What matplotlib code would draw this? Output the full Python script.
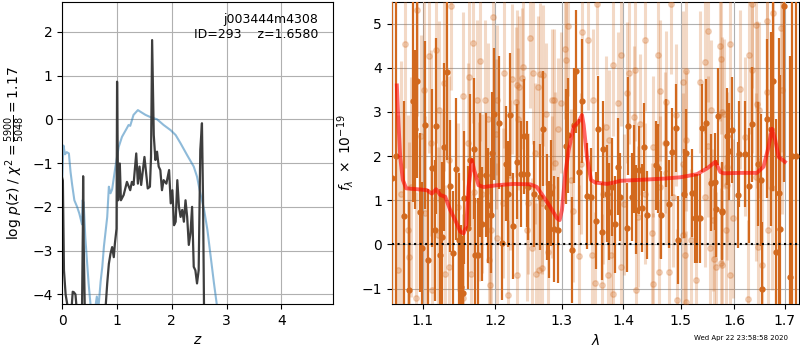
import numpy as np
import matplotlib
matplotlib.use('Agg')
import matplotlib.pyplot as plt
from matplotlib.ticker import NullLocator, NullFormatter

# ---- p(z) panel
z_pz = [0.0, 0.01, 0.03, 0.06, 0.10, 0.17, 0.19, 0.21, 0.24, 0.26, 0.36, 0.375, 0.38, 0.39, 0.41, 0.79,
        0.82, 0.85, 0.88, 0.91, 0.94, 0.96, 0.99, 1.00, 1.02, 1.05, 1.07, 1.12, 1.18, 1.24, 1.27, 1.30,
        1.35, 1.38, 1.41, 1.44, 1.50, 1.56, 1.60, 1.62, 1.64, 1.67, 1.70, 1.73, 1.76, 1.79, 1.82, 1.85,
        1.90, 1.95, 1.98, 2.01, 2.04, 2.07, 2.10, 2.13, 2.16, 2.19, 2.22, 2.25, 2.28, 2.31, 2.34, 2.37,
        2.40, 2.43, 2.46, 2.49, 2.52, 2.55, 2.57, 2.60, 4.95]
logpz = [-1.35, -1.4, -3.45, -4.0, -4.3, -4.3, -3.94, -3.95, -4.0, -4.3, -4.3, -2.5, -1.3, -2.8, -4.3, -4.3,
         -3.75, -3.3, -3.07, -2.92, -3.15, -2.84, -2.5, 0.86, -1.85, -1.01, -1.85, -1.73, -1.43, -1.62, -1.43, -1.50,
         -0.78, -1.47, -1.08, -1.50, -0.86, -1.58, -1.54, -0.86, 1.81, -0.36, -0.93, -0.74, -1.08, -1.16, -1.62, -1.39,
         -1.47, -1.16, -1.92, -1.62, -2.42, -2.34, -1.39, -2.0, -2.23, -2.07, -2.34, -1.85, -2.23, -2.87, -2.61, -2.0,
         -3.37, -3.45, -3.75, -3.45, -0.70, -0.09, -1.85, -6.0, -9.0]

z_chi2 = [0.0, 0.02, 0.05, 0.08, 0.12, 0.15, 0.18, 0.22, 0.27, 0.31, 0.34, 0.36, 0.37, 0.39, 0.42, 0.48,
          0.52, 0.58, 0.63, 0.66, 0.70, 0.73, 0.76, 0.82, 0.85, 0.88, 0.91, 0.97, 1.03, 1.09, 1.18, 1.21,
          1.24, 1.30, 1.38, 1.43, 1.52, 1.61, 1.73, 1.85, 1.98, 2.07, 2.16, 2.28, 2.40, 2.46, 2.52, 2.59,
          2.65, 2.71, 2.77, 2.82, 2.90, 3.00]
chi2_scaled = [-1.3, -0.6, -0.8, -0.75, -0.78, -1.2, -1.5, -1.85, -2.0, -2.15, -2.3, -2.4, -1.85, -1.9, -2.7, -3.75,
               -4.3, -4.5, -4.05, -4.3, -3.7, -3.37, -2.9, -2.23, -1.54, -1.69, -1.6, -1.08, -0.63, -0.40, -0.2, -0.13,
               -0.15, 0.10, 0.21, 0.17, 0.10, 0.05, 0.0, -0.13, -0.25, -0.36, -0.55, -0.82, -1.08, -1.31, -1.69, -2.07,
               -2.53, -3.14, -3.75, -4.22, -5.2, -6.5]

# ---- 1D spectrum panel (flux in 1e-19)
lam_dark = [1.061, 1.065, 1.0764, 1.0829, 1.0873, 1.0907, 1.0930, 1.0965, 1.0987, 1.1039, 1.1079, 1.1125,
            1.1160, 1.1186, 1.1227, 1.1267, 1.1294, 1.1335, 1.1376, 1.1417, 1.1458, 1.1499, 1.1523, 1.1546,
            1.1560, 1.1624, 1.1648, 1.1708, 1.1722, 1.1756, 1.1788, 1.1821, 1.1874, 1.1907, 1.1945, 1.1955,
            1.1993, 1.2065, 1.2109, 1.2158, 1.2197, 1.2225, 1.2270, 1.2319, 1.2383, 1.2432, 1.2468, 1.2492,
            1.2582, 1.2673, 1.2719, 1.2770, 1.2806, 1.2837, 1.2888, 1.2940, 1.3065, 1.3106, 1.3160, 1.3197,
            1.3233, 1.3276, 1.3319, 1.3409, 1.3463, 1.3544, 1.3586, 1.3642, 1.3663, 1.3725, 1.3763, 1.3817,
            1.3862, 1.3917, 1.3945, 1.4068, 1.4084, 1.4152, 1.4181, 1.4221, 1.4267, 1.4313, 1.4353, 1.4404,
            1.4566, 1.4596, 1.4654, 1.4731, 1.4789, 1.4848, 1.4909, 1.4950, 1.5053, 1.5100, 1.5209, 1.5253,
            1.5295, 1.5356, 1.5393, 1.5455, 1.5560, 1.5623, 1.5642, 1.5685, 1.5755, 1.5767, 1.5856, 1.5900,
            1.5946, 1.6073, 1.6092, 1.6202, 1.6285, 1.6332, 1.6463, 1.6510, 1.6549, 1.6629, 1.6709, 1.6762,
            1.6816, 1.6882, 1.6910, 1.6978, 1.7100, 1.7150, 1.7230]
flux_dark = [1.5, 2.0, 0.64, -1.03, 3.25, 2.61, 3.70, 0.73, -0.09, 2.70, -0.35, 1.73,
             0.32, 2.68, -0.24, 0.16, 2.21, 3.91, 1.32, -0.20, 1.71, 0.11, -0.97, -1.11,
             1.06, 0.38, 1.91, 2.17, -0.24, -0.24, 1.57, 0.46, 1.57, 0.89, 0.66, 2.06,
             2.95, 2.76, 0.04, 1.83, 1.14, 2.94, 0.41, 1.87, 1.59, 2.45, 1.59, 1.30,
             1.15, 1.08, 2.62, 0.84, 0.34, 1.17, 0.34, 0.32, 2.22, 2.47, -0.13, 2.70,
             3.92, 1.63, 3.25, 1.09, 1.08, 0.54, 2.62, 0.29, 2.15, 1.15, 0.74, 1.30,
             0.46, 1.76, 1.08, 0.38, 2.68, 1.08, 1.70, 0.79, 1.68, 0.83, 2.21, 0.66,
             1.79, 1.72, 0.66, 2.30, 0.91, 2.10, 2.64, 0.10, 1.15, 2.06, 1.17, 0.59,
             0.59, 0.59, 2.64, 2.74, 1.40, 1.42, 0.81, 2.90, 0.74, 0.76, 2.45, 2.11,
             2.59, 1.12, 2.04, 2.04, 1.33, 2.72, 1.82, 1.46, -1.00, 2.85, 2.62, 3.70,
             -0.17, 1.17, 0.34, 5.41, -0.73, 2.0, 2.0]
err_dark = [6.0, 5.0, 2.6, 2.0, 2.3, 1.8, 2.2, 1.8, 1.5, 1.9, 1.6, 1.8,
            1.6, 2.0, 1.5, 1.7, 1.9, 2.0, 1.5, 1.4, 1.6, 1.5, 1.4, 1.3,
            1.5, 1.4, 1.5, 1.6, 1.3, 1.3, 1.4, 1.3, 1.4, 1.3, 1.3, 1.4,
            1.5, 1.5, 1.3, 1.3, 1.2, 1.4, 1.2, 1.3, 1.2, 1.3, 1.2, 1.2,
            1.2, 1.2, 1.3, 1.2, 1.1, 1.2, 1.2, 1.2, 1.3, 1.3, 1.2, 1.3,
            1.4, 1.2, 1.4, 1.2, 1.1, 1.1, 1.2, 1.1, 1.1, 1.1, 1.1, 1.1,
            1.1, 1.1, 1.0, 1.0, 1.1, 1.0, 1.0, 1.0, 1.0, 1.0, 1.0, 1.0,
            1.0, 1.0, 1.0, 1.0, 1.0, 1.0, 1.0, 1.0, 1.0, 1.0, 1.0, 1.0,
            1.0, 1.0, 1.0, 1.0, 1.1, 1.1, 1.1, 1.1, 1.1, 1.1, 1.1, 1.1,
            1.2, 1.2, 1.2, 1.2, 1.3, 1.3, 1.4, 1.5, 1.5, 1.8, 2.2, 2.5,
            3.0, 3.5, 3.5, 4.0, 5.0, 6.0, 6.0]

lam_light = [1.0675, 1.0722, 1.0773, 1.0808, 1.0829, 1.0851, 1.0917, 1.0926, 1.0982, 1.1026, 1.1030, 1.1089,
             1.1116, 1.1120, 1.1182, 1.1204, 1.1218, 1.1249, 1.1294, 1.1300, 1.1349, 1.1362, 1.1386, 1.1477,
             1.1546, 1.1552, 1.1615, 1.1638, 1.1662, 1.1686, 1.1708, 1.1742, 1.1774, 1.1788, 1.1812, 1.1860,
             1.1907, 1.1912, 1.1931, 1.1945, 1.1978, 1.2017, 1.2027, 1.2031, 1.2123, 1.2137, 1.2187, 1.2221,
             1.2246, 1.2305, 1.2319, 1.2324, 1.2343, 1.2358, 1.2393, 1.2417, 1.2468, 1.2492, 1.2517, 1.2543,
             1.2567, 1.2593, 1.2607, 1.2643, 1.2648, 1.2668, 1.2694, 1.2700, 1.2719, 1.2755, 1.2794, 1.2847,
             1.2852, 1.2888, 1.2898, 1.2940, 1.2987, 1.3054, 1.3065, 1.3106, 1.3144, 1.3181, 1.3276, 1.3303,
             1.3319, 1.3424, 1.3489, 1.3500, 1.3532, 1.3570, 1.3652, 1.3668, 1.3708, 1.3751, 1.3763, 1.3791,
             1.3822, 1.3829, 1.3917, 1.3957, 1.3962, 1.4012, 1.4068, 1.4096, 1.4181, 1.4198, 1.4210, 1.4255,
             1.4284, 1.4365, 1.4370, 1.4497, 1.4509, 1.4514, 1.4596, 1.4621, 1.4626, 1.4631, 1.4713, 1.4731,
             1.4742, 1.4789, 1.4830, 1.4860, 1.4920, 1.4925, 1.5036, 1.5041, 1.5046, 1.5071, 1.5095, 1.5100,
             1.5105, 1.5190, 1.5271, 1.5345, 1.5437, 1.5442, 1.5498, 1.5504, 1.5529, 1.5560, 1.5591, 1.5604,
             1.5642, 1.5729, 1.5735, 1.5748, 1.5755, 1.5760, 1.5810, 1.5845, 1.5850, 1.5861, 1.5913, 1.5918,
             1.5976, 1.6105, 1.6202, 1.6265, 1.6285, 1.6332, 1.6338, 1.6417, 1.6422, 1.6431, 1.6463, 1.6482,
             1.6530, 1.6629, 1.6635, 1.6661, 1.6729, 1.6762, 1.6930, 1.6936]
flux_light = [-0.58, 1.15, 4.53, 0.32, -0.28, 1.30, -1.22, 5.30, 2.45, 3.49, 0.70, 4.26,
              2.30, -1.03, 4.40, 0.21, 3.05, 1.00, 3.66, -0.66, 1.92, -0.51, 5.39, 0.85,
              3.36, -1.22, 2.30, 3.79, -0.66, 4.55, 1.19, 3.28, 0.98, 4.15, 1.15, 3.28,
              2.85, -0.35, -0.92, 0.32, 5.15, 2.51, 3.27, 0.14, 0.93, 3.88, -1.15, 1.58,
              3.74, 3.23, 3.60, -0.69, 2.84, 3.57, 3.76, 4.02, 0.32, 0.93, 4.68, -0.09,
              3.88, 2.06, -0.67, 3.57, -0.58, 3.87, 0.93, -0.54, 3.83, 2.95, -0.17, 3.28,
              1.30, 3.28, 1.85, 2.62, 3.21, 4.43, 4.17, 4.95, 1.46, 0.75, -0.26, 1.83,
              4.80, 4.64, -0.24, 3.27, -0.87, 5.44, -0.92, 1.15, 2.66, -0.69, 2.36, -0.24,
              -1.12, 4.06, 3.21, 4.28, -0.51, 0.91, 3.44, 3.88, 2.89, 3.94, -1.03, 0.63,
              2.72, 4.62, 1.15, 0.25, 2.21, -0.90, 4.28, -0.62, 3.48, 1.30, 2.30, 3.23,
              1.61, -0.62, 5.45, 1.08, 2.93, -1.26, 0.21, 3.68, 1.83, -0.24, -1.30, 3.93,
              2.36, 0.10, -0.81, 3.68, 4.13, 1.08, 4.83, 2.22, -0.09, 3.04, 0.55, -0.32,
              -0.51, 4.49, 4.19, -0.43, 3.00, -0.47, 2.96, 0.32, 1.34, 1.76, 4.53, -0.69,
              0.59, 3.51, 2.44, -1.24, 4.30, 5.44, 3.96, 4.98, 1.53, 3.17, -0.05, 3.04,
              -0.47, 5.06, 3.45, 0.32, 1.27, 5.23, 4.89, 3.49]
err_light = [3.5, 3.0, 2.8, 2.6, 2.6, 2.5, 2.4, 2.4, 2.3, 2.2, 2.2, 2.2,
             2.1, 2.1, 2.1, 2.0, 2.0, 2.0, 2.0, 2.0, 1.9, 1.9, 1.9, 1.9,
             1.9, 1.9, 1.8, 1.8, 1.8, 1.8, 1.8, 1.8, 1.8, 1.8, 1.8, 1.8,
             1.7, 1.7, 1.7, 1.7, 1.7, 1.7, 1.7, 1.7, 1.7, 1.7, 1.7, 1.7,
             1.7, 1.7, 1.7, 1.7, 1.6, 1.6, 1.6, 1.6, 1.6, 1.6, 1.6, 1.6,
             1.6, 1.6, 1.6, 1.6, 1.6, 1.6, 1.6, 1.6, 1.6, 1.6, 1.6, 1.6,
             1.6, 1.6, 1.6, 1.6, 1.6, 1.6, 1.6, 1.6, 1.6, 1.6, 1.6, 1.6,
             1.6, 1.6, 1.6, 1.6, 1.6, 1.6, 1.6, 1.6, 1.6, 1.6, 1.6, 1.6,
             1.6, 1.6, 1.6, 1.6, 1.6, 1.6, 1.6, 1.6, 1.6, 1.6, 1.6, 1.6,
             1.6, 1.6, 1.6, 1.6, 1.6, 1.6, 1.6, 1.6, 1.6, 1.6, 1.6, 1.6,
             1.6, 1.6, 1.6, 1.6, 1.6, 1.6, 1.6, 1.6, 1.6, 1.6, 1.6, 1.6,
             1.6, 1.6, 1.6, 1.6, 1.6, 1.6, 1.6, 1.6, 1.6, 1.6, 1.6, 1.6,
             1.7, 1.7, 1.7, 1.7, 1.7, 1.7, 1.7, 1.7, 1.7, 1.7, 1.7, 1.7,
             1.8, 1.8, 1.8, 1.8, 1.8, 1.9, 1.9, 1.9, 1.9, 1.9, 2.0, 2.0,
             2.0, 2.2, 2.2, 2.2, 2.3, 2.4, 2.8, 2.8]

lam_model = [1.0666, 1.0687, 1.0709, 1.0743, 1.0786, 1.0925, 1.1057, 1.1124, 1.1182, 1.1236, 1.1304, 1.1372,
             1.1441, 1.1510, 1.1556, 1.1593, 1.1626, 1.1672, 1.1705, 1.1766, 1.1837, 1.2028, 1.2271, 1.2519,
             1.2620, 1.2721, 1.2824, 1.2929, 1.2970, 1.3006, 1.3059, 1.3111, 1.3190, 1.3269, 1.3323, 1.3350,
             1.3403, 1.3468, 1.3538, 1.3729, 1.3839, 1.3950, 1.4405, 1.4696, 1.4993, 1.5296, 1.5481, 1.5637,
             1.5731, 1.5794, 1.6113, 1.6438, 1.6570, 1.6670, 1.6737, 1.6805, 1.6873, 1.7000]
flux_model = [3.6, 2.74, 1.98, 1.46, 1.27, 1.25, 1.23, 1.15, 1.25, 1.12, 1.08, 0.78,
              0.55, 0.29, 0.25, 0.40, 1.30, 1.91, 1.68, 1.34, 1.30, 1.34, 1.37, 1.36,
              1.30, 1.08, 0.85, 0.59, 0.55, 0.78, 1.61, 2.13, 2.66, 2.78, 2.93, 2.70,
              1.98, 1.46, 1.40, 1.37, 1.40, 1.44, 1.47, 1.49, 1.52, 1.59, 1.72, 1.87,
              1.64, 1.61, 1.62, 1.62, 1.76, 2.21, 2.62, 2.36, 1.98, 1.87]

lam_ticks = [1.1, 1.2, 1.3, 1.4, 1.5, 1.6, 1.7]

fig = plt.figure(figsize=(8, 3.5), dpi=100)
ax1 = fig.add_axes([0.0779, 0.1314, 0.3388, 0.8629])
ax2 = fig.add_axes([0.4896, 0.1314, 0.5091, 0.8629])

ax1.plot(z_chi2, chi2_scaled, color='#1f77b4', alpha=0.5, lw=1.5)
ax1.plot(z_pz, logpz, color='0.2', alpha=0.95, lw=1.6)
ax1.set_xlim(0, 4.95)
ax1.set_ylim(-4.22, 2.68)
ax1.set_xticks([0, 1, 2, 3, 4])
ax1.set_yticks([-4, -3, -2, -1, 0, 1, 2])
ax1.grid()
ax1.set_xlabel('$z$')
ax1.set_ylabel(r'log $p(z)$ / $\chi^2=\frac{5900}{5048}=1.17$')
ax1.text(0.945, 0.965, 'j003444m4308\nID=293    z=1.6580', transform=ax1.transAxes,
         ha='right', va='top', fontsize=9)

ax2.set_xscale('log')
ax2.errorbar(lam_light, flux_light, yerr=err_light, fmt='o', color='chocolate', alpha=0.25,
             ms=4, elinewidth=2.2, capsize=0, zorder=3)
ax2.errorbar(lam_dark, flux_dark, yerr=err_dark, fmt='o', color='chocolate', alpha=1.0,
             ms=3.5, elinewidth=1.6, capsize=0, zorder=4)
ax2.plot(lam_model, flux_model, color='r', alpha=0.6, lw=2.8, zorder=10)
ax2.axhline(0, color='k', ls=':', lw=1.5, zorder=11)
ax2.set_xlim(1.060, 1.729)
ax2.set_ylim(-1.35, 5.49)
ax2.set_xticks(lam_ticks)
ax2.set_xticklabels(['%.1f' % t for t in lam_ticks])
ax2.xaxis.set_minor_locator(NullLocator())
ax2.xaxis.set_minor_formatter(NullFormatter())
ax2.set_yticks([-1, 0, 1, 2, 3, 4, 5])
ax2.set_axisbelow(False)
ax2.grid()
ax2.set_xlabel(r'$\lambda$')
ax2.set_ylabel(r'$f_\lambda\ \times\ 10^{-19}$')

fig.text(0.985, 0.025, 'Wed Apr 22 23:58:58 2020', ha='right', va='bottom', fontsize=5)

fig.savefig('out.png', dpi=100)
